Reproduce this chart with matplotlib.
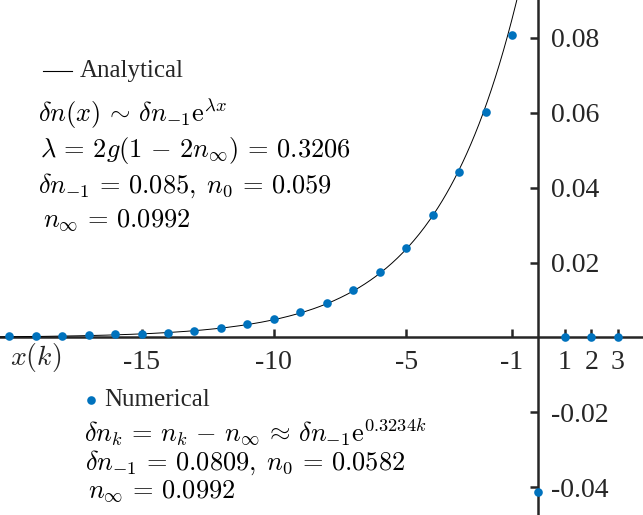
import numpy as np
import matplotlib
matplotlib.use('Agg')
import matplotlib.pyplot as plt

plt.rcParams['font.family'] = ['Liberation Serif', 'DejaVu Serif']
plt.rcParams['mathtext.fontset'] = 'cm'

# numerical data: delta n_k = n_k - n_inf
k_vals = [-20, -19, -18, -17, -16, -15, -14, -13, -12, -11,
          -10, -9, -8, -7, -6, -5, -4, -3, -2, -1, 0, 1, 2, 3]
dn_vals = [0.0003, 0.0003, 0.0005, 0.0006, 0.0008, 0.0010, 0.0013, 0.0017, 0.0025, 0.0035,
           0.0048, 0.0067, 0.0092, 0.0127, 0.0175, 0.0239, 0.0326, 0.0443, 0.0601, 0.0808,
           -0.0412, 0.0, 0.0, 0.0]

# analytical curve parameters (from the annotation)
dn_m1 = 0.085
lam = 0.3206

x_ticks = [-15, -10, -5, -1, 1, 2, 3]
x_ticklabels = ['-15', '-10', '-5', '-1', '1', '2', '3']
y_ticks = [-0.04, -0.02, 0.02, 0.04, 0.06, 0.08]
y_ticklabels = ['-0.04', '-0.02', '0.02', '0.04', '0.06', '0.08']

blue = '#0072BD'
axcol = '#262626'

fig = plt.figure(figsize=(6.43, 5.15), dpi=100)
ax = fig.add_axes([0, 0, 1, 1])
ax.patch.set_alpha(0)

x = np.linspace(-21, -0.5, 400)
ax.plot(x, dn_m1 * np.exp(lam * (x + 1)), color='k', lw=0.7, zorder=2)
ax.plot(k_vals, dn_vals, 'o', color=blue, ms=6.2, mec='none', zorder=3, clip_on=False)

ax.set_xlim(-20.35, 3.95)
ax.set_ylim(-0.0474, 0.0901)

for s in ['top', 'left']:
    ax.spines[s].set_visible(False)
ax.spines['right'].set_position(('data', 0))
ax.spines['bottom'].set_position(('data', 0))
for s in ['right', 'bottom']:
    ax.spines[s].set_linewidth(1.8)
    ax.spines[s].set_color(axcol)
    ax.spines[s].set_zorder(1)

ax.yaxis.tick_right()
ax.set_xticks(x_ticks)
ax.set_xticklabels(x_ticklabels)
ax.set_yticks(y_ticks)
ax.set_yticklabels(y_ticklabels)
ax.tick_params(axis='x', direction='in', length=6, width=1.8, color=axcol,
               labelsize=20, pad=9, labelcolor=axcol)
ax.tick_params(axis='y', direction='in', length=6, width=1.8, color=axcol,
               labelsize=20, pad=9, labelcolor=axcol)

W, H = 643.0, 515.0
def px(xp, yp):
    return xp / W, 1 - yp / H

# legend-like entries
ax.plot([43 / W, 72 / W], [1 - 71 / H] * 2, color='k', lw=0.8, transform=ax.transAxes)
ax.text(*px(80, 71), 'Analytical', fontsize=18, va='center', ha='left',
        transform=ax.transAxes, color=axcol)
ax.plot([91 / W], [1 - 400 / H], 'o', color=blue, ms=6.2, mec='none', transform=ax.transAxes)
ax.text(*px(104, 400), 'Numerical', fontsize=18, va='center', ha='left',
        transform=ax.transAxes, color=axcol)

fs = 19
upper = [(38, 114, r'$\delta n(x) \,\sim\, \delta n_{-1}\mathrm{e}^{\lambda x}$'),
         (40, 150, r'$\lambda \,=\, 2g(1\,-\,2n_{\infty}) \,=\, 0.3206$'),
         (38, 186, r'$\delta n_{-1} \,=\, 0.085,\; n_0 \,=\, 0.059$'),
         (43, 220, r'$n_{\infty} \,=\, 0.0992$')]
lower = [(84, 431, r'$\delta n_k \,=\, n_k \,-\, n_{\infty} \,\approx\, \delta n_{-1}\mathrm{e}^{0.3234k}$'),
         (85, 463, r'$\delta n_{-1} \,=\, 0.0809,\; n_0 \,=\, 0.0582$'),
         (88, 491, r'$n_{\infty} \,=\, 0.0992$')]
for xp, yp, s in upper + lower:
    ax.text(*px(xp, yp), s, fontsize=fs, va='center', ha='left',
            transform=ax.transAxes, color='k')

ax.text(*px(10, 358), r'$x(k)$', fontsize=20, va='center', ha='left',
        transform=ax.transAxes, color=axcol)

fig.savefig('out.png', dpi=100)
